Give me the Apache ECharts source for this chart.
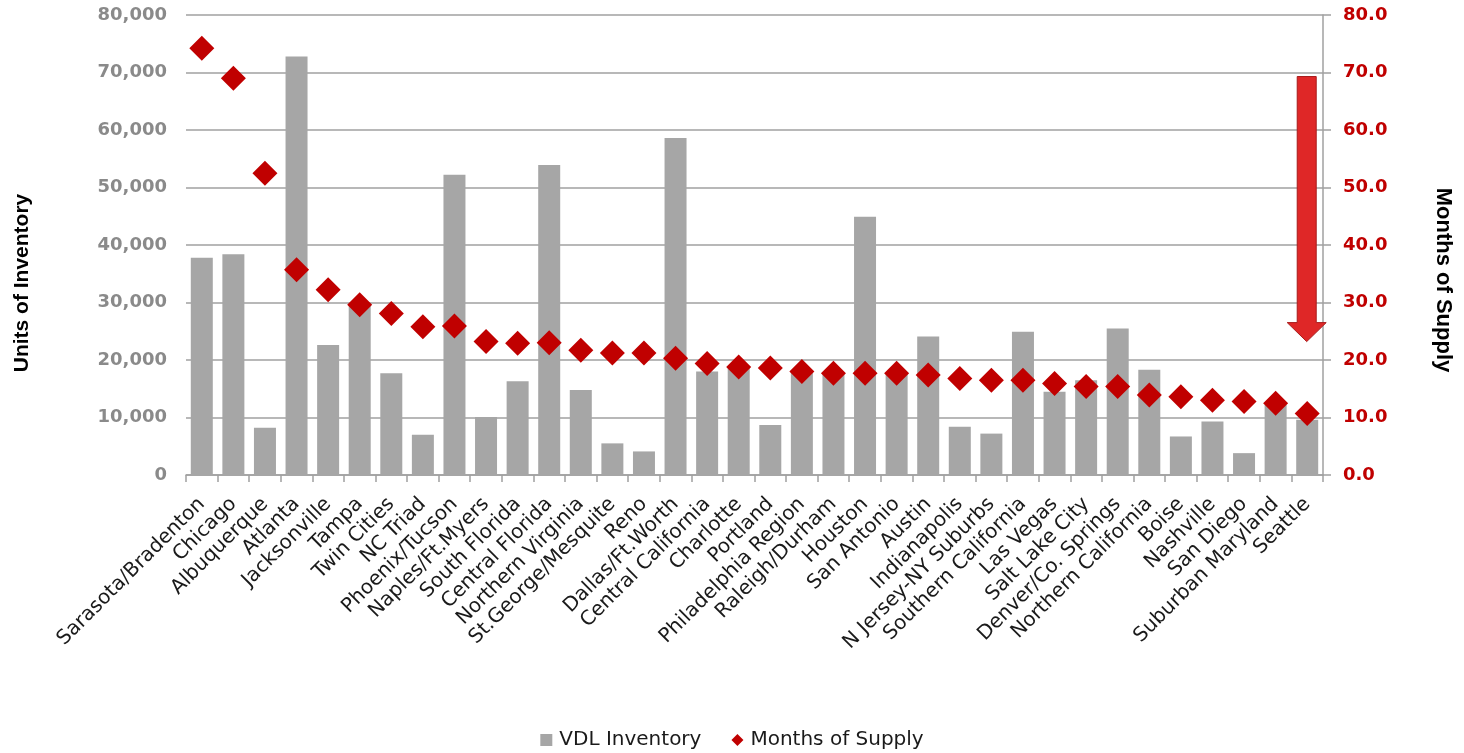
<!DOCTYPE html>
<html>
<head>
<meta charset="utf-8">
<script src="https://cdn.jsdelivr.net/npm/echarts@6/dist/echarts.min.js"></script>
<style>
  html, body { margin: 0; padding: 0; background: #fff; }
  #chart { width: 1464px; height: 753px; }
</style>
</head>
<body>
<div id="chart"></div>
<script>
// markets, sorted by months of supply
var markets = ['Sarasota/Bradenton', 'Chicago', 'Albuquerque', 'Atlanta', 'Jacksonville', 'Tampa',
  'Twin Cities', 'NC Triad', 'Phoenix/Tucson', 'Naples/Ft.Myers', 'South Florida', 'Central Florida',
  'Northern Virginia', 'St.George/Mesquite', 'Reno', 'Dallas/Ft.Worth', 'Central California', 'Charlotte',
  'Portland', 'Philadelphia Region', 'Raleigh/Durham', 'Houston', 'San Antonio', 'Austin', 'Indianapolis',
  'N Jersey-NY Suburbs', 'Southern California', 'Las Vegas', 'Salt Lake City', 'Denver/Co. Springs',
  'Northern California', 'Boise', 'Nashville', 'San Diego', 'Suburban Maryland', 'Seattle'];

var vdlInventory = [37800, 38400, 8200, 72800, 22600, 29900, 17700, 7000, 52200, 10100, 16300, 53900,
  14800, 5500, 4100, 58600, 18000, 18800, 8700, 18000, 17800, 44900, 17600, 24100, 8400,
  7200, 24900, 14500, 16500, 25500, 18300, 6700, 9300, 3800, 12200, 9600];

var monthsOfSupply = [74.2, 69.0, 52.5, 35.7, 32.2, 29.6, 28.1, 25.8, 25.9, 23.2, 22.9, 23.0,
  21.7, 21.2, 21.2, 20.3, 19.4, 18.8, 18.6, 18.0, 17.7, 17.7, 17.7, 17.4, 16.8,
  16.5, 16.5, 15.9, 15.4, 15.4, 13.9, 13.6, 13.0, 12.8, 12.5, 10.7];

// arrow annotation on the right axis (months): from ~69 down to ~23
var arrowFrom = 69.3;
var arrowTo = 23.2;

var chart = echarts.init(document.getElementById('chart'));

var option = {
  animation: false,
  backgroundColor: '#fff',
  grid: { left: 186, right: 141, top: 15, bottom: 278 },
  legend: {
    top: 725,
    left: 'center',
    itemWidth: 12,
    itemHeight: 12,
    itemGap: 30,
    textStyle: { fontFamily: 'DejaVu Sans', fontSize: 20, color: '#1a1a1a', padding: [0, 0, 0, 2] },
    data: [
      { name: 'VDL Inventory', icon: 'rect' },
      { name: 'Months of Supply', icon: 'diamond' }
    ]
  },
  xAxis: {
    type: 'category',
    data: markets,
    axisLine: { lineStyle: { color: '#a0a0a0', width: 1.5 } },
    axisTick: { show: true, length: 7, lineStyle: { color: '#a0a0a0', width: 1.5 } },
    axisLabel: {
      interval: 0,
      rotate: 45,
      margin: 26,
      fontFamily: 'DejaVu Sans',
      fontSize: 20,
      color: '#1a1a1a'
    }
  },
  yAxis: [
    {
      type: 'value',
      min: 0,
      max: 80000,
      interval: 10000,
      axisLine: { show: false },
      axisTick: { show: false },
      splitLine: { lineStyle: { color: '#a0a0a0', width: 1.5 } },
      axisLabel: {
        margin: 19,
        fontFamily: 'DejaVu Sans',
        fontWeight: 'bold',
        fontSize: 18,
        color: '#8a8a8a',
        formatter: function (v) {
          return echarts.format.addCommas(v);
        }
      }
    },
    {
      type: 'value',
      min: 0,
      max: 80,
      interval: 10,
      position: 'right',
      axisLine: { show: true, lineStyle: { color: '#a0a0a0', width: 1.5 } },
      axisTick: { show: true, length: 8, lineStyle: { color: '#a0a0a0', width: 1.5 } },
      splitLine: { show: false },
      axisLabel: {
        margin: 20,
        fontFamily: 'DejaVu Sans',
        fontWeight: 'bold',
        fontSize: 18,
        color: '#c00000',
        formatter: function (v) {
          return v.toFixed(1);
        }
      }
    }
  ],
  series: [
    {
      name: 'VDL Inventory',
      type: 'bar',
      yAxisIndex: 0,
      barWidth: 22,
      itemStyle: { color: '#a6a6a6' },
      data: vdlInventory
    },
    {
      name: 'Months of Supply',
      type: 'scatter',
      yAxisIndex: 1,
      symbol: 'diamond',
      symbolSize: 25,
      itemStyle: { color: '#c00000', opacity: 1 },
      data: monthsOfSupply
    }
  ]
};

chart.setOption(option);

// axis titles and the arrow, placed after layout
function drawExtras() {
  var last = markets[markets.length - 1];
  var top = chart.convertToPixel({ xAxisIndex: 0, yAxisIndex: 1 }, [last, arrowFrom]);
  var tip = chart.convertToPixel({ xAxisIndex: 0, yAxisIndex: 1 }, [last, arrowTo]);
  var cx = top[0] - 0.5;
  var headBase = tip[1] - 19;
  var shaft = 9.5, head = 19.5;

  chart.setOption({
    graphic: [
      {
        type: 'text',
        x: 22, y: 283,
        rotation: Math.PI / 2,
        style: {
          text: 'Units of Inventory',
          fontFamily: 'Liberation Sans',
          fontWeight: 'bold',
          fontSize: 21,
          fill: '#000',
          align: 'center',
          verticalAlign: 'middle'
        }
      },
      {
        type: 'text',
        x: 1443, y: 280,
        rotation: -Math.PI / 2,
        style: {
          text: 'Months of Supply',
          fontFamily: 'Liberation Sans',
          fontWeight: 'bold',
          fontSize: 22,
          fill: '#000',
          align: 'center',
          verticalAlign: 'middle'
        }
      },
      {
        type: 'polygon',
        z: 10,
        shape: {
          points: [
            [cx - shaft, top[1]], [cx + shaft, top[1]], [cx + shaft, headBase],
            [cx + head, headBase], [cx, tip[1]], [cx - head, headBase], [cx - shaft, headBase]
          ]
        },
        style: { fill: '#df2727', stroke: '#a81c1c', lineWidth: 1 }
      }
    ]
  });
}
drawExtras();
</script>
</body>
</html>
